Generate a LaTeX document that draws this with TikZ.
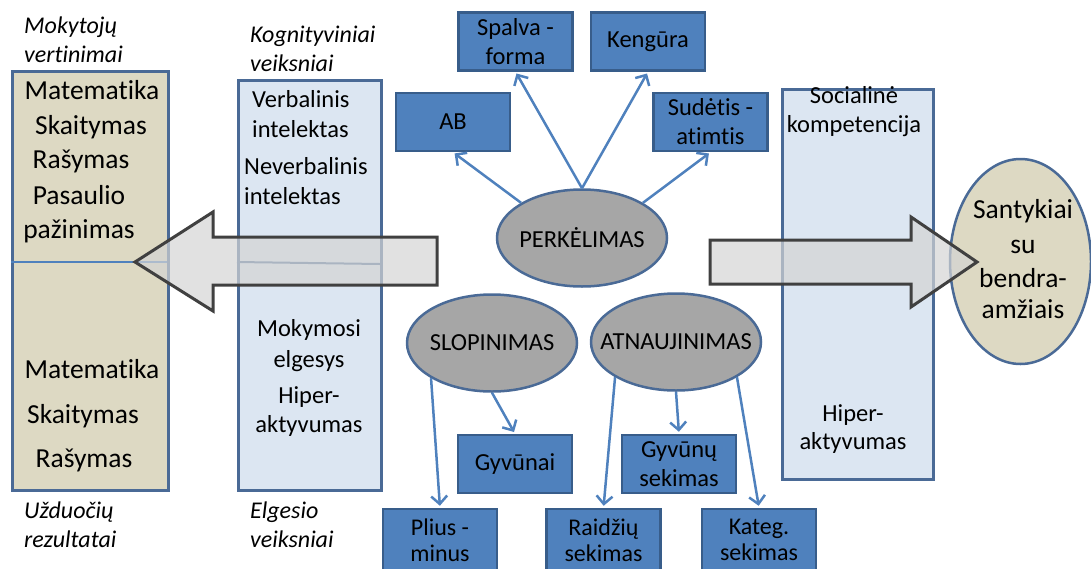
\documentclass[tikz,border=0pt]{standalone}
\usepackage{fontspec}
\setmainfont{Carlito}[Ligatures=NoCommon]
\usetikzlibrary{shapes.geometric,arrows.meta}
\definecolor{boxblue}{HTML}{4F81BD}
\definecolor{boxedge}{HTML}{385D8A}
\definecolor{paleblue}{HTML}{DCE6F2}
\definecolor{paleedge}{HTML}{4A6A96}
\definecolor{tanfill}{HTML}{DDD9C3}
\definecolor{ovalgray}{HTML}{A6A6A6}
\definecolor{arrowgray}{HTML}{D4D4D4}
\definecolor{arrowedge}{HTML}{404040}
\begin{document}
\begin{tikzpicture}[x=1pt,y=-1pt,
 bluebox/.style={rectangle, fill=boxblue, draw=boxedge, line width=2.5pt, minimum width=114pt, minimum height=58pt, inner sep=0pt, align=center, font=\fontsize{24.5}{29}\selectfont},
 lowbox/.style={bluebox, minimum height=62pt, font=\fontsize{24}{26.5}\selectfont},
 oval/.style={ellipse, fill=ovalgray, draw=paleedge, line width=2.5pt, minimum width=170pt, minimum height=97pt, inner sep=0pt},
 ovaltext/.style={font=\fontsize{24.5}{29}\selectfont, inner sep=0pt},
 panel/.style={rectangle, draw=paleedge, line width=2.5pt, inner sep=0pt, anchor=north west},
 link/.style={draw=boxblue, line width=2.5pt, -{Straight Barb[length=8pt,width=16pt,line width=2.5pt]}, shorten >=2pt},
 bigtxt/.style={font=\fontsize{27.5}{34}\selectfont, anchor=base, inner sep=0pt},
 midtxt/.style={font=\fontsize{24.5}{30}\selectfont, anchor=base, inner sep=0pt},
 midleft/.style={midtxt, anchor=base west},
 captxt/.style={font=\fontsize{24}{29}\selectfont\itshape, anchor=base west, inner sep=0pt},
 blockarrow/.style={fill=arrowgray, fill opacity=0.7, draw=arrowedge, line width=3pt, line join=miter}
]
\useasboundingbox (0,0) rectangle (1091,568);
\clip (0,0) rectangle (1091,568);

% panels
\node[panel, fill=tanfill, minimum width=156pt, minimum height=419pt] (lbox) at (11,70) {};
\node[panel, fill=paleblue, minimum width=143pt, minimum height=410pt] (mbox) at (237,79) {};
\node[panel, fill=paleblue, minimum width=151pt, minimum height=390pt] (rbox) at (781,88) {};
\draw[boxblue, line width=1.8pt] (11,262) -- (167,262);
\draw[paleedge, line width=2pt] (237,262) -- (380,264);

% captions
\node[captxt] (c1) at (24,33) {Mokytojų};
\node[captxt] (c2) at (24,62) {vertinimai};
\node[captxt] (c3) at (250,42) {Kognityviniai};
\node[captxt] (c4) at (250,71) {veiksniai};
\node[captxt] (c5) at (24,518) {Užduočių};
\node[captxt] (c6) at (24,547) {rezultatai};
\node[captxt] (c7) at (250,518) {Elgesio};
\node[captxt] (c8) at (250,547) {veiksniai};

% left panel text
\node[bigtxt] (l1) at (92,99) {Matematika};
\node[bigtxt] (l2) at (91,134) {Skaitymas};
\node[bigtxt] (l3) at (81,168) {Rašymas};
\node[bigtxt] (l4) at (79,204) {Pasaulio};
\node[bigtxt] (l5) at (79,238) {pažinimas};
\node[bigtxt] (l6) at (92,378) {Matematika};
\node[bigtxt] (l7) at (83,423) {Skaitymas};
\node[bigtxt] (l8) at (84,467) {Rašymas};

% middle panel text
\node[midleft] (m1) at (252,107) {Verbalinis};
\node[midleft] (m2) at (252,137) {intelektas};
\node[midleft] (m3) at (244,174) {Neverbalinis};
\node[midleft] (m4) at (244,204) {intelektas};
\node[midtxt] (m5) at (309,336) {Mokymosi};
\node[midtxt] (m6) at (309,367) {elgesys};
\node[midtxt] (m7) at (309,403) {Hiper-};
\node[midtxt] (m8) at (309,432) {aktyvumas};

% right panel text
\node[midtxt] (r1) at (854,103) {Socialinė};
\node[midtxt] (r2) at (854,132) {kompetencija};
\node[midtxt] (r3) at (853,421) {Hiper-};
\node[midtxt] (r4) at (853,449) {aktyvumas};

% Santykiai ellipse
\node[ellipse, fill=tanfill, draw=paleedge, line width=2.5pt, minimum width=141pt, minimum height=205pt, inner sep=0pt] (sant) at (1020.5,261.5) {};
\node[bigtxt] (s1) at (1023,218) {Santykiai};
\node[bigtxt] (s2) at (1023,253) {su};
\node[bigtxt] (s3) at (1023,287) {bendra-};
\node[bigtxt] (s4) at (1023,318) {amžiais};

% block arrows
\draw[blockarrow] (135,262) -- (213,212) -- (213,237) -- (437,237) -- (437,285) -- (213,285) -- (213,311) -- cycle;
\draw[blockarrow] (710,240) -- (911,240) -- (911,217) -- (977,262) -- (911,307) -- (911,284) -- (710,284) -- cycle;

% blue boxes
\node[bluebox] (spalva) at (515.5,41.5) {Spalva -\\forma};
\node[bluebox] (kengura) at (648,41.5) {Kengūra};
\node[bluebox] (ab) at (453,122) {AB};
\node[bluebox] (sudetis) at (710.5,122) {Sudėtis -\\atimtis};
\node[bluebox] (gyvunai) at (515,464) {Gyvūnai};
\node[bluebox] (gsek) at (679,464) {Gyvūnų\\sekimas};
\node[lowbox] (plius) at (440,540) {Plius -\\minus};
\node[lowbox] (raid) at (603.5,540) {Raidžių\\sekimas};
\node[lowbox] (kateg) at (759,540) {Kateg.\\sekimas};

% ovals
\node[oval] (perk) at (582,238) {};
\node[ovaltext] (perkt) at (perk) {PERKĖLIMAS};
\node[oval] (slop) at (492,343) {};
\node[ovaltext] (slopt) at (slop) {SLOPINIMAS};
\node[oval] (atn) at (676,342) {};
\node[ovaltext] (atnt) at (atn) {ATNAUJINIMAS};

% links
\draw[link] (perk.north) -- (spalva.south);
\draw[link] (perk.north) -- (kengura.south);
\draw[link] (perk.150) -- (ab.south);
\draw[link] (perk.30) -- (sudetis.south);
\draw[link] (slop.210) -- (plius.north);
\draw[link] (slop.south) -- (gyvunai.north);
\draw[link] (atn.210) -- (raid.north);
\draw[link] (atn.south) -- (gsek.north);
\draw[link] (atn.330) -- (kateg.north);
\end{tikzpicture}
\end{document}
